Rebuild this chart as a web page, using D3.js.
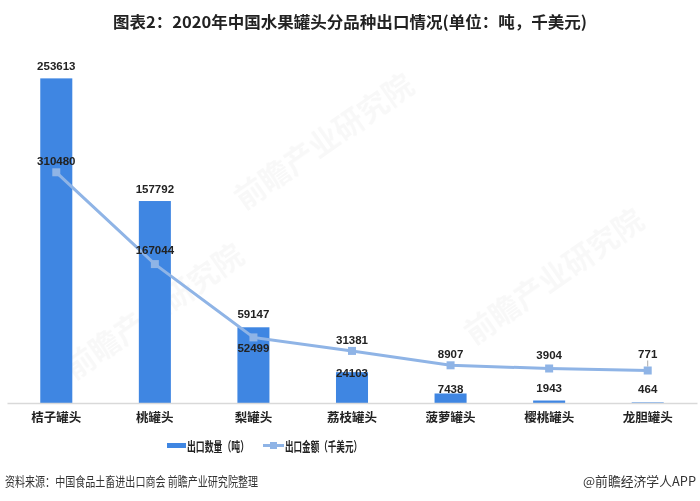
<!DOCTYPE html>
<html>
<head>
<meta charset="utf-8">
<script src="https://cdn.jsdelivr.net/npm/d3@7/dist/d3.min.js"></script>
<style>
  html, body { margin: 0; padding: 0; background: #fff; }
  svg { display: block; font-family: "Noto Sans CJK SC", "Noto Sans", sans-serif; }
</style>
</head>
<body>
<svg id="chart" width="700" height="501"></svg>
<script>
const categories = ["桔子罐头", "桃罐头", "梨罐头", "荔枝罐头", "菠萝罐头", "樱桃罐头", "龙胆罐头"];
const quantity = [253613, 157792, 59147, 24103, 7438, 1943, 464];
const amount = [310480, 167044, 52499, 31381, 8907, 3904, 771];
const seriesNames = ["出口数量（吨）", "出口金额（千美元）"];
const titleText = "图表2：2020年中国水果罐头分品种出口情况(单位：吨，千美元)";
const sourceText = "资料来源：中国食品土畜进出口商会 前瞻产业研究院整理";
const brandText = "@前瞻经济学人APP";

const barColor = "#3f86e2";
const lineColor = "#8fb4e6";
const svg = d3.select("#chart");

const baseY = 403, topY = 19;
const x = d3.scaleBand().domain(categories).range([7, 697]).paddingInner(0.675).paddingOuter(0.3375);
const yBar = d3.scaleLinear().domain([0, 300000]).range([baseY, topY]);
const yLine = d3.scaleLinear().domain([-50000, 550000]).range([baseY, topY]);

// faint watermarks
const wm = svg.append("g").attr("fill", "#000").attr("opacity", 0.03);
[[330, 150], [560, 285], [160, 320]].forEach(([wx, wy]) => {
  wm.append("text").attr("x", wx).attr("y", wy).attr("font-size", 30).attr("font-weight", "bold")
    .attr("transform", `rotate(-35 ${wx} ${wy})`).attr("text-anchor", "middle").text("前瞻产业研究院");
});

// title
svg.append("text").attr("x", 350).attr("y", 28).attr("text-anchor", "middle")
  .attr("font-size", 16).attr("font-weight", "bold").attr("fill", "#222")
  .attr("textLength", 474).attr("lengthAdjust", "spacingAndGlyphs").text(titleText);

// bars
svg.append("g").selectAll("rect").data(quantity).join("rect")
  .attr("x", (d, i) => x(categories[i]))
  .attr("width", x.bandwidth())
  .attr("y", d => yBar(d))
  .attr("height", d => baseY - yBar(d))
  .attr("fill", barColor);

// x axis
const xAxis = d3.axisBottom(x).tickSize(0).tickPadding(10);
const ax = svg.append("g").attr("transform", `translate(0,${baseY})`).call(xAxis);
ax.select(".domain").attr("stroke", "#d9d9d9").attr("stroke-width", 1.5);
ax.selectAll("text").attr("font-size", 12.5).attr("font-weight", "bold").attr("fill", "#222")
  .attr("font-family", "'Noto Sans CJK SC', sans-serif");

// line
const cx = i => x(categories[i]) + x.bandwidth() / 2;
const line = d3.line().x((d, i) => cx(i)).y(d => yLine(d));
svg.append("path").datum(amount).attr("d", line).attr("fill", "none")
  .attr("stroke", lineColor).attr("stroke-width", 3);
svg.append("g").selectAll("rect").data(amount).join("rect")
  .attr("x", (d, i) => cx(i) - 4).attr("y", d => yLine(d) - 4)
  .attr("width", 8).attr("height", 8).attr("fill", lineColor);

// leader line for last amount label
svg.append("line").attr("x1", cx(6)).attr("x2", cx(6))
  .attr("y1", yLine(amount[6]) - 4).attr("y2", yLine(amount[6]) - 10)
  .attr("stroke", "#aaa").attr("stroke-width", 1);

// bar labels (baseline offsets from bar top)
const barLabelDy = [-8, -8, -9, 5, 0, -9, -9];
svg.append("g").selectAll("text").data(quantity).join("text")
  .attr("x", (d, i) => cx(i))
  .attr("y", (d, i) => yBar(d) + barLabelDy[i])
  .attr("text-anchor", "middle").attr("font-size", 11.5).attr("font-weight", "bold")
  .attr("fill", "#222").attr("font-family", "'Liberation Sans', Arial, sans-serif")
  .text(d => d);

// line labels
const lineLabelDy = [-7, -10, 15, -7, -7, -10, -13];
svg.append("g").selectAll("text").data(amount).join("text")
  .attr("x", (d, i) => cx(i))
  .attr("y", (d, i) => yLine(d) + lineLabelDy[i])
  .attr("text-anchor", "middle").attr("font-size", 11.5).attr("font-weight", "bold")
  .attr("fill", "#222").attr("font-family", "'Liberation Sans', Arial, sans-serif")
  .text(d => d);

// legend
const lg = svg.append("g");
lg.append("rect").attr("x", 167).attr("y", 443).attr("width", 19).attr("height", 5).attr("fill", barColor);
lg.append("text").attr("x", 187).attr("y", 450.5).attr("font-size", 13).attr("font-weight", "bold")
  .attr("fill", "#222").attr("textLength", 62).attr("lengthAdjust", "spacingAndGlyphs").text(seriesNames[0]);
lg.append("line").attr("x1", 263).attr("x2", 284).attr("y1", 445.5).attr("y2", 445.5)
  .attr("stroke", lineColor).attr("stroke-width", 3);
lg.append("rect").attr("x", 270).attr("y", 442).attr("width", 7).attr("height", 7).attr("fill", lineColor);
lg.append("text").attr("x", 285).attr("y", 450.5).attr("font-size", 13).attr("font-weight", "bold")
  .attr("fill", "#222").attr("textLength", 77).attr("lengthAdjust", "spacingAndGlyphs").text(seriesNames[1]);

// footer
svg.append("text").attr("x", 5).attr("y", 486).attr("font-size", 13).attr("fill", "#333")
  .attr("textLength", 253).attr("lengthAdjust", "spacingAndGlyphs").text(sourceText);
svg.append("text").attr("x", 696).attr("y", 486).attr("text-anchor", "end").attr("font-size", 13)
  .attr("fill", "#333").attr("textLength", 113).attr("lengthAdjust", "spacingAndGlyphs").text(brandText);
</script>
</body>
</html>
